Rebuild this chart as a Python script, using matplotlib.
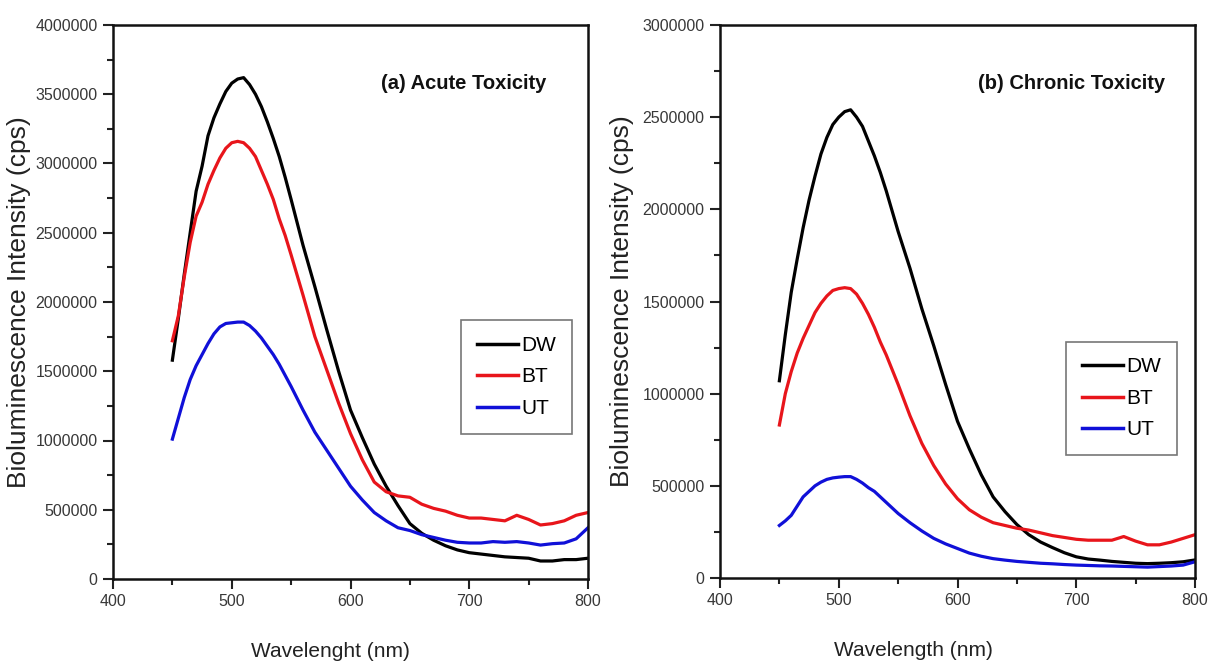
import matplotlib
matplotlib.use("Agg")
import matplotlib.pyplot as plt
from matplotlib.ticker import MultipleLocator, FuncFormatter
from matplotlib import font_manager

# ---------------- data ----------------
wavelength = [450, 455, 460, 465, 470, 475, 480, 485, 490, 495, 500, 505, 510, 515, 520,
              525, 530, 535, 540, 545, 550, 560, 570, 580, 590, 600, 610, 620, 630, 640,
              650, 660, 670, 680, 690, 700, 710, 720, 730, 740, 750, 760, 770, 780, 790, 800]

acute_dw = [1.58, 1.88, 2.20, 2.50, 2.80, 2.98, 3.20, 3.33, 3.43, 3.52, 3.58, 3.61, 3.62, 3.57, 3.50,
            3.41, 3.30, 3.18, 3.05, 2.90, 2.74, 2.41, 2.11, 1.80, 1.50, 1.22, 1.02, 0.83, 0.67, 0.53,
            0.40, 0.33, 0.28, 0.24, 0.21, 0.19, 0.18, 0.17, 0.16, 0.155, 0.15, 0.13, 0.13, 0.14, 0.14, 0.15]
acute_bt = [1.72, 1.90, 2.18, 2.43, 2.62, 2.72, 2.85, 2.95, 3.04, 3.11, 3.15, 3.16, 3.15, 3.11, 3.05,
            2.95, 2.85, 2.74, 2.60, 2.48, 2.34, 2.05, 1.75, 1.51, 1.27, 1.05, 0.86, 0.70, 0.63, 0.60,
            0.59, 0.54, 0.51, 0.49, 0.46, 0.44, 0.44, 0.43, 0.42, 0.46, 0.43, 0.39, 0.40, 0.42, 0.46, 0.48]
acute_ut = [1.01, 1.16, 1.31, 1.44, 1.54, 1.62, 1.70, 1.77, 1.82, 1.845, 1.85, 1.855, 1.855, 1.83, 1.79,
            1.74, 1.68, 1.62, 1.55, 1.47, 1.39, 1.22, 1.06, 0.93, 0.80, 0.67, 0.57, 0.48, 0.42, 0.37,
            0.35, 0.32, 0.30, 0.28, 0.265, 0.26, 0.26, 0.27, 0.265, 0.27, 0.26, 0.245, 0.255, 0.26, 0.29, 0.37]

chronic_dw = [1.07, 1.32, 1.55, 1.73, 1.90, 2.05, 2.18, 2.30, 2.39, 2.46, 2.50, 2.53, 2.54, 2.50, 2.45,
              2.37, 2.29, 2.20, 2.10, 1.99, 1.88, 1.68, 1.46, 1.26, 1.05, 0.85, 0.70, 0.56, 0.44, 0.36,
              0.29, 0.235, 0.195, 0.165, 0.137, 0.115, 0.103, 0.097, 0.090, 0.085, 0.080, 0.078, 0.080, 0.083, 0.088, 0.098]
chronic_bt = [0.83, 1.00, 1.12, 1.22, 1.30, 1.37, 1.44, 1.49, 1.53, 1.56, 1.57, 1.575, 1.57, 1.54, 1.49,
              1.43, 1.36, 1.28, 1.21, 1.13, 1.05, 0.88, 0.73, 0.61, 0.51, 0.43, 0.37, 0.33, 0.30, 0.285,
              0.27, 0.26, 0.245, 0.23, 0.22, 0.21, 0.205, 0.205, 0.205, 0.225, 0.20, 0.18, 0.18, 0.195, 0.215, 0.235]
chronic_ut = [0.285, 0.31, 0.34, 0.39, 0.44, 0.47, 0.50, 0.52, 0.535, 0.543, 0.547, 0.55, 0.55, 0.535, 0.515,
              0.49, 0.47, 0.44, 0.41, 0.38, 0.35, 0.30, 0.255, 0.215, 0.185, 0.16, 0.135, 0.118, 0.105, 0.097,
              0.090, 0.085, 0.080, 0.077, 0.073, 0.070, 0.068, 0.066, 0.065, 0.063, 0.061, 0.059, 0.062, 0.065, 0.070, 0.088]

series_names = ["DW", "BT", "UT"]
series_colors = ["#000000", "#e8151b", "#1010d8"]
scale = 1e6  # values above are in millions of cps

panel_titles = ["(a) Acute Toxicity", "(b) Chronic Toxicity"]
x_labels = ["Wavelenght (nm)", "Wavelength (nm)"]
y_label = "Bioluminescence Intensity (cps)"
y_max = [4000000, 3000000]

# ---------------- fonts ----------------
available = {f.name for f in font_manager.fontManager.ttflist}
narrow = "Liberation Sans Narrow" if "Liberation Sans Narrow" in available else "Liberation Sans"
regular = "Liberation Sans"

fig = plt.figure(figsize=(12.1, 6.64), dpi=100)
W, H = 1210, 664
ax_boxes = [(113, 25, 588, 579), (720, 25, 1195, 578)]
legend_anchor = [(0.966, 0.467), (0.962, 0.427)]
xlabel_x = [0.457, 0.408]
ylabel_x = [-0.172, -0.180]
title_x = [0.912, 0.937]

data = [[acute_dw, acute_bt, acute_ut], [chronic_dw, chronic_bt, chronic_ut]]

for i in range(2):
    l, t, r, b = ax_boxes[i]
    ax = fig.add_axes([l / W, 1 - b / H, (r - l) / W, (b - t) / H])
    for name, col, vals in zip(series_names, series_colors, data[i]):
        ax.plot(wavelength, [v * scale for v in vals], color=col, lw=2.3, label=name)
    ax.set_xlim(400, 800)
    ax.set_ylim(0, y_max[i])
    ax.xaxis.set_major_locator(MultipleLocator(100))
    ax.xaxis.set_minor_locator(MultipleLocator(50))
    ax.yaxis.set_major_locator(MultipleLocator(500000))
    ax.yaxis.set_minor_locator(MultipleLocator(250000))
    ax.yaxis.set_major_formatter(FuncFormatter(lambda v, p: f"{int(round(v))}"))
    ax.tick_params(which="both", direction="out", top=False, right=False, width=1.5, color="#222222")
    ax.tick_params(which="major", length=7, labelsize=11.5, labelcolor="#383838", pad=4)
    ax.tick_params(which="minor", length=4)
    for lab in ax.get_xticklabels() + ax.get_yticklabels():
        lab.set_family(narrow)
    for sp in ax.spines.values():
        sp.set_linewidth(1.8)
        sp.set_color("#111111")
    ax.set_xlabel(x_labels[i], fontsize=15, family=narrow, color="#222222")
    ax.xaxis.set_label_coords(xlabel_x[i], -0.114)
    ax.set_ylabel(y_label, fontsize=19, family=regular, color="#222222")
    ax.yaxis.set_label_coords(ylabel_x[i], 0.5)
    ax.text(title_x[i], 0.895, panel_titles[i], transform=ax.transAxes, ha="right", va="center",
            fontsize=14.5, fontweight="bold", family=narrow, color="#111111")
    leg = ax.legend(loc="upper right", bbox_to_anchor=legend_anchor[i], borderaxespad=0,
                    frameon=True, fancybox=False, edgecolor="#555555", handlelength=2.0,
                    handletextpad=0.15, labelspacing=0.6, borderpad=0.75,
                    prop={"family": narrow, "size": 15})
    leg.get_frame().set_linewidth(1.2)
    for ln in leg.get_lines():
        ln.set_linewidth(2.5)

fig.savefig("out.png", dpi=100)
